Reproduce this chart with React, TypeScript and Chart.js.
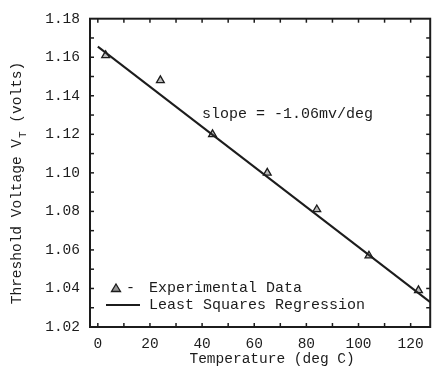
import { useEffect, useRef } from "react";
import { Chart, registerables } from "chart.js";

Chart.register(...registerables);

// ---- data ----
const tempC = [3, 24, 44, 65, 84, 104, 123];
const thresholdV = [1.161, 1.148, 1.12, 1.1, 1.081, 1.057, 1.039];
const fitTemp = [0, 127.5];
const fitVolt = [1.1655, 1.0329];
const xTickValues = [0, 20, 40, 60, 80, 100, 120];
const xMinorTicks = [0, 10, 20, 30, 40, 50, 60, 70, 80, 90, 100, 110, 120];
const yTickValues = [1.02, 1.04, 1.06, 1.08, 1.1, 1.12, 1.14, 1.16, 1.18];
const yMinorTicks = [
  1.03, 1.04, 1.05, 1.06, 1.07, 1.08, 1.09, 1.1, 1.11, 1.12, 1.13, 1.14, 1.15,
  1.16, 1.17,
];
const slopeLabel = "slope = -1.06mv/deg";
const slopeAt = { x: 40, y: 1.1305 };
const legendPointLabel = "Experimental Data";
const legendLineLabel = "Least Squares Regression";
const xTitle = "Temperature (deg C)";
const yTitleMain = "Threshold Voltage V";
const yTitleSub = "T";
const yTitleEnd = " (volts)";

const INK = "#1c1c1c";
const MONO = '"Liberation Mono", "DejaVu Sans Mono", monospace';

const decorPlugin = {
  id: "decor",
  afterDraw(chart: any) {
    const { ctx, chartArea: a, scales } = chart;
    const x = scales.x;
    const y = scales.y;
    ctx.save();
    ctx.strokeStyle = INK;
    ctx.fillStyle = INK;
    // frame
    ctx.lineWidth = 2;
    ctx.strokeRect(a.left, a.top, a.right - a.left, a.bottom - a.top);
    // inward tick marks
    ctx.lineWidth = 1.5;
    const seg = (x1: number, y1: number, x2: number, y2: number) => {
      ctx.beginPath();
      ctx.moveTo(x1, y1);
      ctx.lineTo(x2, y2);
      ctx.stroke();
    };
    xMinorTicks.forEach((v) => {
      const px = x.getPixelForValue(v);
      seg(px, a.bottom, px, a.bottom - 4);
      seg(px, a.top, px, a.top + 4);
    });
    yMinorTicks.forEach((v) => {
      const py = y.getPixelForValue(v);
      seg(a.left, py, a.left + 4, py);
      seg(a.right, py, a.right - 4, py);
    });

    // slope annotation
    ctx.font = "15px " + MONO;
    ctx.textAlign = "left";
    ctx.textBaseline = "middle";
    ctx.fillText(slopeLabel, x.getPixelForValue(slopeAt.x), y.getPixelForValue(slopeAt.y));

    // legend
    const lx = a.left;
    const ly1 = a.bottom - 39;
    const ly2 = a.bottom - 22;
    ctx.beginPath();
    const tx = lx + 26;
    ctx.moveTo(tx, ly1 - 4);
    ctx.lineTo(tx + 4.5, ly1 + 3.5);
    ctx.lineTo(tx - 4.5, ly1 + 3.5);
    ctx.closePath();
    ctx.fillStyle = "rgba(60,60,60,0.55)";
    ctx.fill();
    ctx.lineWidth = 1.3;
    ctx.stroke();
    ctx.fillStyle = INK;
    ctx.fillText("-", lx + 36, ly1);
    ctx.fillText(legendPointLabel, lx + 59, ly1);
    ctx.lineWidth = 2;
    seg(lx + 16, ly2, lx + 50, ly2);
    ctx.fillText(legendLineLabel, lx + 59, ly2);

    // x title
    ctx.font = "14.5px " + MONO;
    ctx.textAlign = "center";
    ctx.fillText(xTitle, (a.left + a.right) / 2 + 12, 359);

    // y title (rotated, with subscript)
    ctx.translate(17, 183);
    ctx.rotate(-Math.PI / 2);
    const mainFont = "14.5px " + MONO;
    const subFont = "11px " + MONO;
    ctx.font = mainFont;
    const w1 = ctx.measureText(yTitleMain).width;
    const w3 = ctx.measureText(yTitleEnd).width;
    ctx.font = subFont;
    const w2 = ctx.measureText(yTitleSub).width + 1;
    const total = w1 + w2 + w3;
    let cx = -total / 2;
    ctx.textAlign = "left";
    ctx.font = mainFont;
    ctx.fillText(yTitleMain, cx, 0);
    cx += w1;
    ctx.font = subFont;
    ctx.fillText(yTitleSub, cx + 1, 6);
    cx += w2;
    ctx.font = mainFont;
    ctx.fillText(yTitleEnd, cx, 0);
    ctx.restore();
  },
};

export default function App() {
  const ref = useRef<HTMLCanvasElement | null>(null);
  useEffect(() => {
    if (!ref.current) return;
    const chart = new Chart(ref.current, {
      type: "scatter",
      data: {
        datasets: [
          {
            label: legendPointLabel,
            data: tempC.map((t, i) => ({ x: t, y: thresholdV[i] })),
            pointStyle: "triangle",
            radius: 4.5,
            borderColor: INK,
            backgroundColor: "rgba(60,60,60,0.35)",
            borderWidth: 1.3,
            showLine: false,
          },
          {
            label: legendLineLabel,
            data: fitTemp.map((t, i) => ({ x: t, y: fitVolt[i] })),
            showLine: true,
            borderColor: INK,
            borderWidth: 2,
            pointRadius: 0,
            fill: false,
          },
        ],
      },
      options: {
        responsive: false,
        animation: false,
        layout: { padding: { left: 0, top: 15, right: 4, bottom: 0 } },
        plugins: {
          legend: { display: false },
          tooltip: { enabled: false },
          title: { display: false },
        },
        scales: {
          x: {
            type: "linear",
            min: -3,
            max: 127.5,
            afterBuildTicks: (s: any) => {
              s.ticks = xTickValues.map((v) => ({ value: v }));
            },
            afterFit: (s: any) => {
              s.height = 42;
            },
            grid: { display: false, drawTicks: false },
            border: { display: false },
            ticks: {
              padding: 8,
              color: INK,
              font: { family: MONO, size: 14.5 },
              maxRotation: 0,
              autoSkip: false,
            },
          },
          y: {
            type: "linear",
            min: 1.02,
            max: 1.18,
            afterBuildTicks: (s: any) => {
              s.ticks = yTickValues.map((v) => ({ value: v }));
            },
            afterFit: (s: any) => {
              s.width = 90;
            },
            grid: { display: false, drawTicks: false },
            border: { display: false },
            ticks: {
              padding: 10,
              color: INK,
              font: { family: MONO, size: 14.5 },
              callback: (v: any) => Number(v).toFixed(2),
              autoSkip: false,
            },
          },
        },
      },
      plugins: [decorPlugin],
    });
    return () => chart.destroy();
  }, []);
  return (
    <div style={{ position: "fixed", left: 0, top: 0, width: 436, height: 369, background: "#fff" }}>
      <canvas ref={ref} width={436} height={369} style={{ display: "block" }} />
    </div>
  );
}
